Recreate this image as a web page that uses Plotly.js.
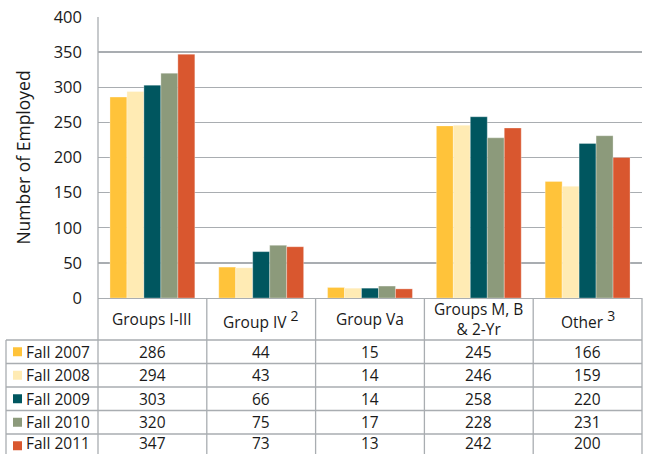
<!DOCTYPE html>
<html>
<head>
<meta charset="utf-8">
<script src="https://cdn.plot.ly/plotly-3.0.1.min.js"></script>
<style>html,body{margin:0;padding:0;background:#fff;}#chart{width:648px;height:454px;}</style>
</head>
<body>
<div id="chart"></div>
<script>
const categories = ["Groups I-III", "Group IV", "Group Va", "Groups M, B & 2-Yr", "Other"];
const categoryLabels = ["Groups I-III", "Group IV <sup><span style='font-size:14px'>2</span></sup>", "Group Va", "Groups M, B<br>& 2-Yr", "Other <sup><span style='font-size:14px'>3</span></sup>"];
const seriesNames = ["Fall 2007", "Fall 2008", "Fall 2009", "Fall 2010", "Fall 2011"];
const fall2007 = [286, 44, 15, 245, 166];
const fall2008 = [294, 43, 14, 246, 159];
const fall2009 = [303, 66, 14, 258, 220];
const fall2010 = [320, 75, 17, 228, 231];
const fall2011 = [347, 73, 13, 242, 200];
const yTicks = [0, 50, 100, 150, 200, 250, 300, 350, 400];

const seriesValues = [fall2007, fall2008, fall2009, fall2010, fall2011];
const colors = ["#FFC33A", "#FFEBB4", "#00565F", "#8C9A7B", "#D9572F"];
const W = 648, H = 454;
const px = v => v / W, py = v => 1 - v / H;
const font = "Open Sans, Noto Sans, sans-serif";
const gridColor = "#A9ADB1";
const txt = "#1a1a1a";
const fs = 15.5;

const plotL = 98, plotR = 642, plotT = 17, plotB = 298;
const tableL = 6, headerB = 340, rowH = 23.5;

const traces = seriesValues.map((vals, i) => ({
  type: "bar", name: seriesNames[i], x: categories, y: vals,
  marker: {color: colors[i], line: {color: "rgba(255,255,255,0.6)", width: 0.5}},
  hoverinfo: "x+y+name"
}));

const shapes = [];
const annotations = [];
const line = (x0, y0, x1, y1) => shapes.push({type: "line", xref: "paper", yref: "paper",
  x0: px(x0), y0: py(y0), x1: px(x1), y1: py(y1), line: {color: gridColor, width: 1.3}});

// table grid
const nRows = seriesNames.length;
const colW = (plotR - plotL) / categories.length;
line(plotL, plotT, plotL, H);
for (let c = 1; c <= categories.length; c++) line(plotL + c * colW, plotB, plotL + c * colW, H);
line(tableL, headerB, tableL, H);
for (let r = 0; r < nRows; r++) line(tableL, headerB + r * rowH, plotR, headerB + r * rowH);

// header labels
categoryLabels.forEach((lab, c) => annotations.push({
  xref: "x", yref: "paper", x: categories[c], y: py((plotB + headerB) / 2),
  text: lab, showarrow: false, xanchor: "center", yanchor: "middle", borderpad: 0,
  font: {family: font, size: fs, color: txt}
}));

// rows
seriesNames.forEach((nm, r) => {
  const cy = headerB + r * rowH + rowH / 2;
  const ty = Math.min(cy, H - 11);
  shapes.push({type: "rect", xref: "paper", yref: "paper",
    x0: px(13), x1: px(22), y0: py(cy - 4.5), y1: py(cy + 4.5),
    fillcolor: colors[r], line: {width: 0}});
  annotations.push({xref: "paper", yref: "paper", x: px(25), y: py(ty), text: nm,
    showarrow: false, xanchor: "left", yanchor: "middle", borderpad: 0,
    font: {family: font, size: fs, color: txt}});
  seriesValues[r].forEach((v, c) => annotations.push({
    xref: "x", yref: "paper", x: categories[c], y: py(ty), text: String(v),
    showarrow: false, xanchor: "center", yanchor: "middle", borderpad: 0,
    font: {family: font, size: fs, color: txt}}));
});

const layout = {
  width: W, height: H, margin: {l: 0, r: 0, t: 0, b: 0},
  paper_bgcolor: "#fff", plot_bgcolor: "#fff",
  barmode: "group", bargap: 0.22, bargroupgap: 0,
  showlegend: false,
  xaxis: {domain: [px(plotL), px(plotR)], type: "category", showticklabels: false,
    showgrid: false, zeroline: false, showline: true, linecolor: gridColor, linewidth: 1.3,
    fixedrange: true},
  yaxis: {domain: [py(plotB), py(plotT)], range: [0, 400], tickvals: yTicks,
    showgrid: true, gridcolor: gridColor, gridwidth: 1.3, zeroline: false,
    showline: false, ticks: "", ticklen: 0, ticklabelstandoff: 15,
    tickfont: {family: font, size: 16.5, color: txt},
    title: {text: "Number of Employed", font: {family: font, size: 17.5, color: txt}, standoff: 18},
    automargin: false, fixedrange: true},
  shapes: shapes, annotations: annotations
};

Plotly.newPlot("chart", traces, layout, {displayModeBar: false, staticPlot: true});
</script>
</body>
</html>
